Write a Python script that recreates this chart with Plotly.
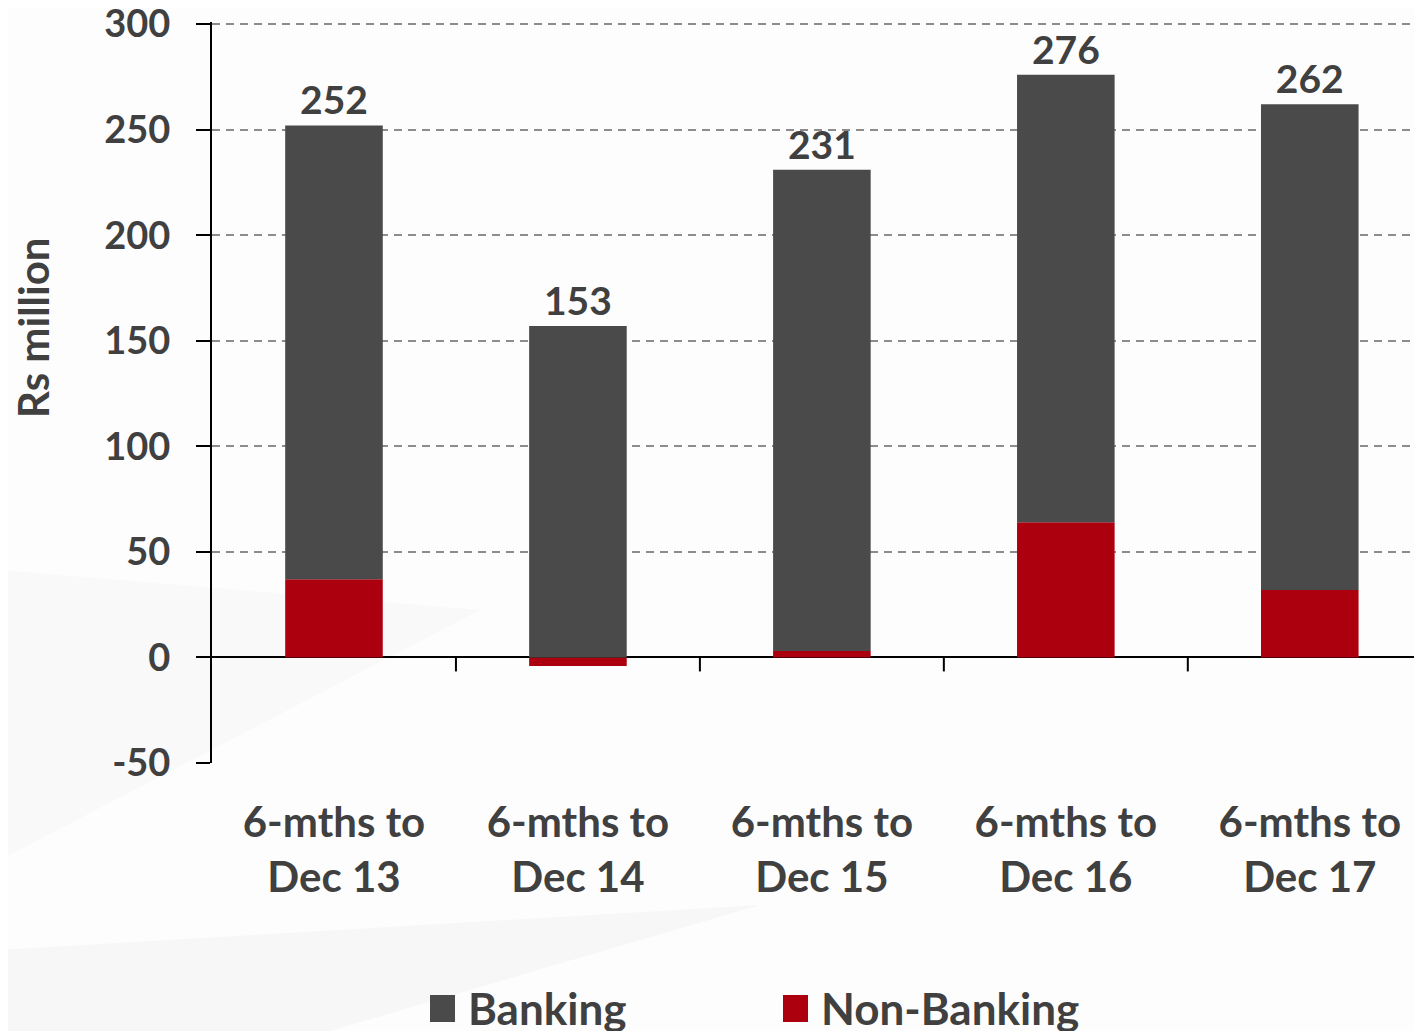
import plotly.graph_objects as go

categories = ["6-mths to<br>Dec 13", "6-mths to<br>Dec 14", "6-mths to<br>Dec 15",
              "6-mths to<br>Dec 16", "6-mths to<br>Dec 17"]
banking = [215, 157, 228, 212, 230]
non_banking = [37, -4, 3, 64, 32]
totals = [252, 153, 231, 276, 262]
y_ticks = [-50, 0, 50, 100, 150, 200, 250, 300]
y_tick_text = ["-50", "0", "50", "100", "150", "200", "250", "300"]

OFF = 8  # browser body margin
W, H = 1422 - OFF, 1031 - OFF
ML, MR, MT, MB = 212 - OFF, 0, 22 - OFF, 268
TXT = "#404040"
FONT = "Lato"
C_BANK = "#4a4a4a"
C_NON = "#ad000f"

def f(size):
    return dict(family=FONT, size=size, color=TXT, weight="bold")

fig = go.Figure()
fig.add_trace(go.Bar(x=categories, y=non_banking, name="Non-Banking",
                     marker=dict(color=C_NON, line=dict(width=0)), width=0.4,
                     showlegend=False))
fig.add_trace(go.Bar(x=categories, y=banking, name="Banking",
                     marker=dict(color=C_BANK, line=dict(width=0)), width=0.4,
                     text=[str(t) for t in totals], textposition="outside",
                     textfont=f(39), cliponaxis=False, showlegend=False))

pw = W - ML - MR
ph = H - MT - MB
def px_x(p):
    return (p - OFF - ML) / pw
def px_y(p):
    return (H - MB - (p - OFF)) / ph

shapes = []
# faint background swooshes
shapes.append(dict(type="path", xref="paper", yref="paper", layer="below",
                   path=f"M {px_x(0)} {px_y(950)} L {px_x(760)} {px_y(905)} L {px_x(330)} {px_y(1031)} L {px_x(0)} {px_y(1031)} Z",
                   fillcolor="#f7f7f7", line=dict(width=0)))
shapes.append(dict(type="path", xref="paper", yref="paper", layer="below",
                   path=f"M {px_x(0)} {px_y(570)} L {px_x(480)} {px_y(610)} L {px_x(0)} {px_y(860)} Z",
                   fillcolor="#f9f9f9", line=dict(width=0)))
# category boundary tick marks on the zero line
for i in range(len(categories) - 1):
    shapes.append(dict(type="line", xref="x", yref="y", x0=i + 0.5, x1=i + 0.5,
                       ysizemode="pixel", yanchor=0, y0=0, y1=-14,
                       line=dict(color="black", width=2)))

annotations = []
# y-axis title
annotations.append(dict(xref="paper", yref="paper", x=px_x(33), y=px_y(328),
                        xanchor="center", yanchor="middle", showarrow=False,
                        textangle=-90, text="Rs million", font=f(42)))

# legend (manual)
legend_items = [("Banking", C_BANK, 430), ("Non-Banking", C_NON, 783)]
for name, col, x0 in legend_items:
    shapes.append(dict(type="rect", xref="paper", yref="paper",
                       x0=px_x(x0), x1=px_x(x0 + 25), y0=px_y(995), y1=px_y(1022),
                       fillcolor=col, line=dict(width=0)))
    annotations.append(dict(xref="paper", yref="paper", x=px_x(x0 + 36), y=px_y(1008),
                            xanchor="left", yanchor="middle", showarrow=False,
                            text=name, font=f(44)))

fig.update_layout(
    width=W, height=H,
    margin=dict(l=ML, r=MR, t=MT, b=MB, pad=0, autoexpand=False),
    barmode="relative",
    paper_bgcolor="#fdfdfd", plot_bgcolor="rgba(0,0,0,0)",
    shapes=shapes, annotations=annotations,
    showlegend=False,
    xaxis=dict(range=[-0.5, 4.46], showline=False, showgrid=False, zeroline=False,
               automargin=False,
               ticks="", tickfont=f(42), ticklabelstandoff=31),
    yaxis=dict(range=[-50, 301], tickvals=y_ticks, ticktext=y_tick_text,
               automargin=False,
               showline=True, linecolor="black",
               linewidth=2, ticks="outside", ticklen=14, tickcolor="black", tickwidth=2,
               showgrid=True, gridcolor="#8c8c8c", gridwidth=2, griddash="8px,6px",
               zeroline=True, zerolinecolor="black", zerolinewidth=2,
               tickfont=f(38), ticklabelstandoff=18, ticklabeloverflow="allow"),
)

fig.write_html("out.html")
